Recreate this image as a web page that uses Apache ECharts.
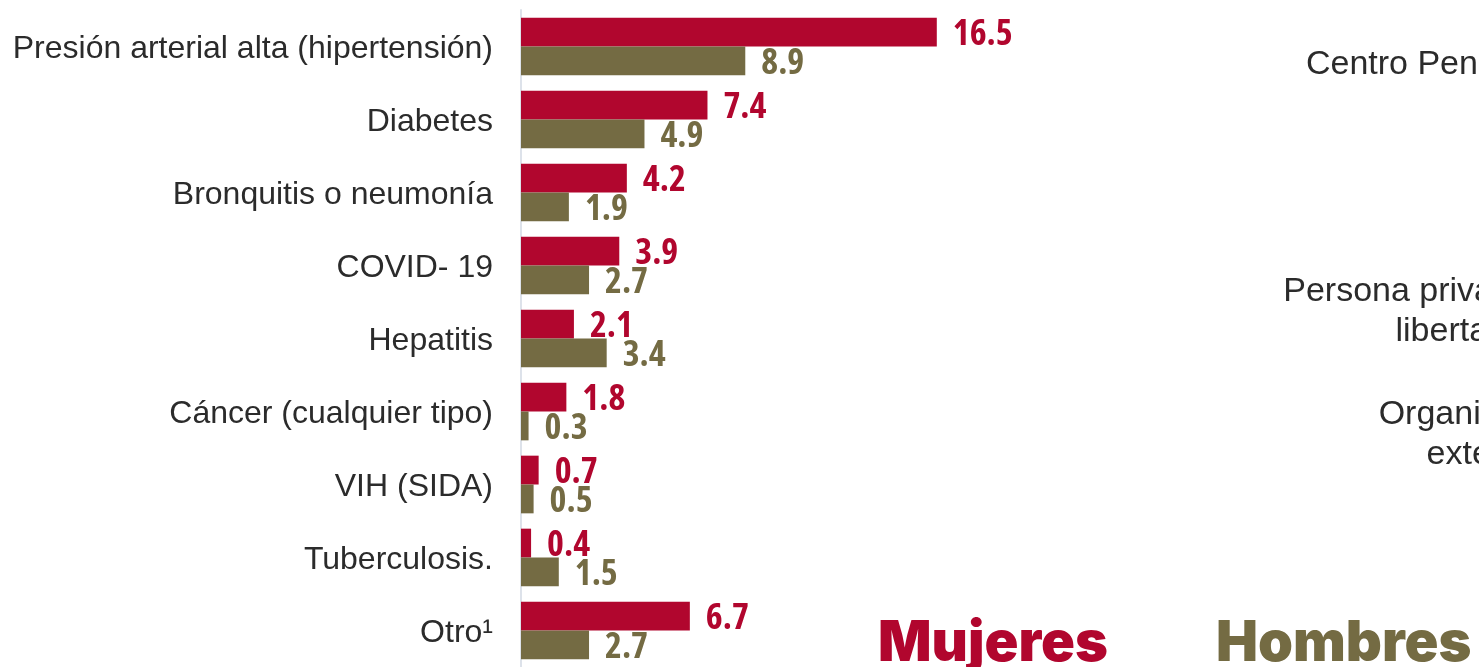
<!DOCTYPE html>
<html>
<head>
<meta charset="utf-8">
<script src="https://cdn.jsdelivr.net/npm/echarts@6/dist/echarts.min.js"></script>
<style>
  html, body { margin: 0; padding: 0; background: #fff; }
  #main { width: 1479px; height: 667px; }
</style>
</head>
<body>
<div id="main"></div>
<script>
var chartDom = document.getElementById('main');
var myChart = echarts.init(chartDom);

// enfermedades (orden de arriba hacia abajo)
const categories = [
  'Presión arterial alta (hipertensión)',
  'Diabetes',
  'Bronquitis o neumonía',
  'COVID- 19',
  'Hepatitis',
  'Cáncer (cualquier tipo)',
  'VIH (SIDA)',
  'Tuberculosis.',
  'Otro¹'
];
const mujeres = [16.5, 7.4, 4.2, 3.9, 2.1, 1.8, 0.7, 0.4, 6.7];
const hombres = [8.9, 4.9, 1.9, 2.7, 3.4, 0.3, 0.5, 1.5, 2.7];

// segunda gráfica, casi fuera del lienzo
const categories2 = [
  'Centro Penitenciario',
  'Nadie',
  'Persona privada de la\nlibertad',
  'Organización\nexterna',
  'Otro'
];

const redColor = '#b1062e';
const oliveColor = '#746b43';
const textGrey = '#2b2b2b';
const sansFont = "'Liberation Sans', Arial, sans-serif";
const numFont = "'Open Sans', 'Liberation Sans Narrow', sans-serif";
const heavyFont = "Inter, 'Noto Sans', sans-serif";

// relleno derecho de cada renglón para alinear las etiquetas cortadas
const padRight2 = {
  'libertad': 107,
  'Organización': 35,
  'externa': 74
};

function numLabel(color) {
  return {
    show: true,
    position: 'right',
    distance: 16,
    offset: [0, 3],
    color: color,
    fontSize: 36,
    fontWeight: 'bold condensed',
    fontFamily: numFont,
    formatter: function (p) { return p.value.toFixed(1); }
  };
}

var rich2 = {};
Object.keys(padRight2).forEach(function (k, i) {
  rich2['p' + i] = { fontSize: 34, lineHeight: 40, color: textGrey, fontFamily: sansFont, padding: [0, padRight2[k], 0, 0] };
});
rich2.n = { fontSize: 34, lineHeight: 40, color: textGrey, fontFamily: sansFont };

var option = {
  animation: false,
  grid: [
    { left: 521, top: 10, width: 504, height: 660 },
    { left: 1629, top: 3, width: 300, height: 617 }
  ],
  legend: [
    {
      left: 868,
      top: 611,
      icon: 'none',
      itemWidth: 0,
      data: ['Mujeres'],
      textStyle: { color: redColor, fontSize: 56, fontWeight: 900, fontFamily: heavyFont }
    },
    {
      left: 1206,
      top: 611,
      icon: 'none',
      itemWidth: 0,
      data: ['Hombres'],
      textStyle: { color: oliveColor, fontSize: 56, fontWeight: 900, fontFamily: heavyFont }
    }
  ],
  xAxis: [
    { gridIndex: 0, type: 'value', min: 0, max: 20, show: false },
    { gridIndex: 1, type: 'value', min: 0, max: 20, show: false }
  ],
  yAxis: [
    {
      gridIndex: 0,
      type: 'category',
      inverse: true,
      data: categories,
      axisLine: { show: true, lineStyle: { color: '#dde2ea', width: 2 } },
      axisTick: { show: false },
      axisLabel: {
        margin: 28,
        color: textGrey,
        fontSize: 32,
        fontFamily: sansFont,
        formatter: function (v) { return '{c|' + v + '}'; },
        rich: {
          c: { fontSize: 32, color: textGrey, fontFamily: sansFont, padding: [6, 0, 0, 0] }
        }
      }
    },
    {
      gridIndex: 1,
      type: 'category',
      inverse: true,
      data: categories2,
      axisLine: { show: false },
      axisTick: { show: false },
      axisLabel: {
        margin: 15,
        color: textGrey,
        fontSize: 34,
        lineHeight: 40,
        fontFamily: sansFont,
        formatter: function (v) {
          var keys = Object.keys(padRight2);
          return v.split('\n').map(function (line) {
            var i = keys.indexOf(line);
            return i >= 0 ? '{p' + i + '|' + line + '}' : '{n|' + line + '}';
          }).join('\n');
        },
        rich: rich2
      }
    }
  ],
  series: [
    {
      name: 'Mujeres',
      type: 'bar',
      xAxisIndex: 0,
      yAxisIndex: 0,
      data: mujeres,
      barGap: '0%',
      barCategoryGap: '21%',
      itemStyle: { color: redColor },
      label: numLabel(redColor)
    },
    {
      name: 'Hombres',
      type: 'bar',
      xAxisIndex: 0,
      yAxisIndex: 0,
      data: hombres,
      itemStyle: { color: oliveColor },
      label: numLabel(oliveColor)
    }
  ]
};

option && myChart.setOption(option);
</script>
</body>
</html>
